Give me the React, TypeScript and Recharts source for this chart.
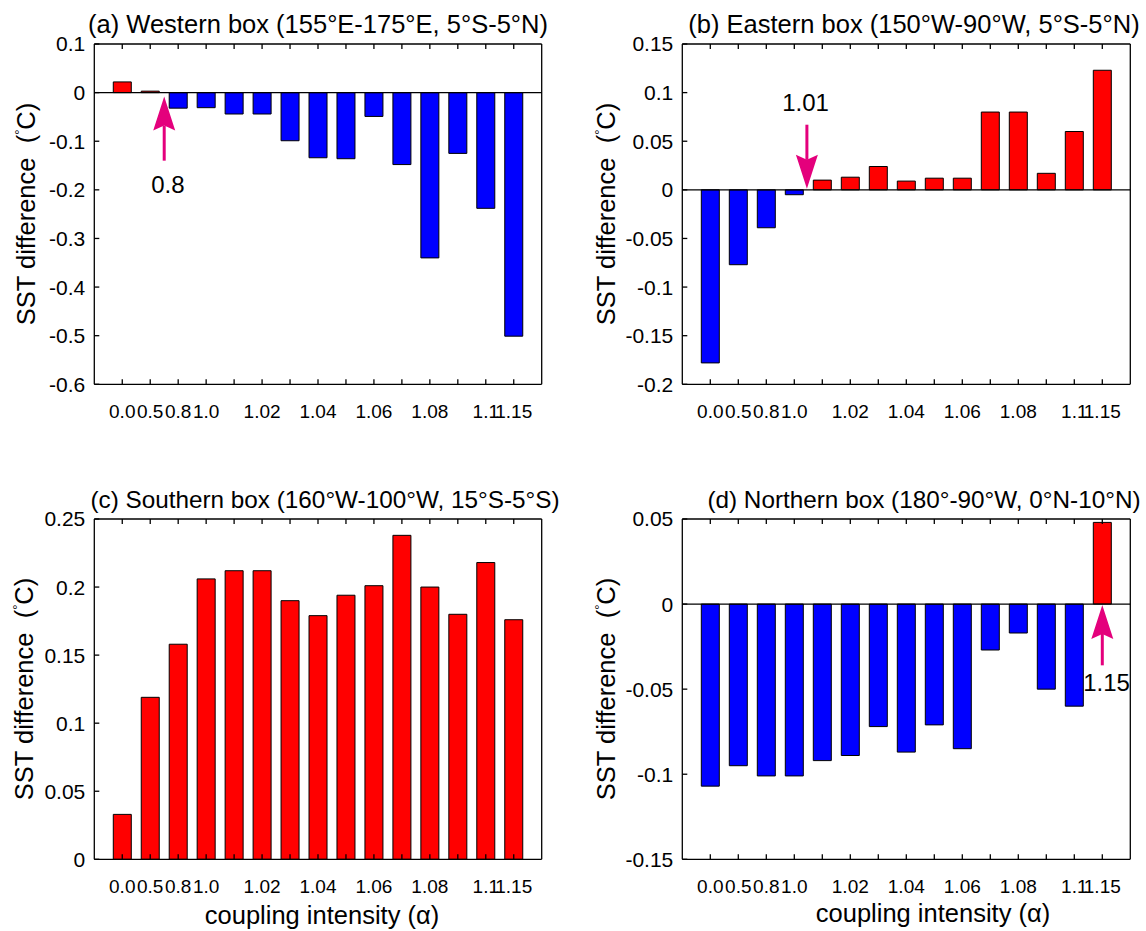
import React from 'react';
import { BarChart, Bar, XAxis, YAxis, Cell, ReferenceLine, ReferenceDot } from 'recharts';

const alphas = ['0.0', '0.5', '0.8', '1.0', '1.01', '1.02', '1.03', '1.04', '1.05', '1.06', '1.07', '1.08', '1.09', '1.1', '1.15'];
const xTickLabels = ['0.0', '0.5', '0.8', '1.0', '', '1.02', '', '1.04', '', '1.06', '', '1.08', '', '1.1', '1.15'];

const western = [0.022, 0.003, -0.032, -0.031, -0.044, -0.044, -0.099, -0.134, -0.136, -0.049, -0.148, -0.340, -0.125, -0.238, -0.501];
const eastern = [-0.178, -0.077, -0.039, -0.005, 0.010, 0.013, 0.024, 0.009, 0.012, 0.012, 0.080, 0.080, 0.017, 0.060, 0.123];
const southern = [0.033, 0.119, 0.158, 0.206, 0.212, 0.212, 0.190, 0.179, 0.194, 0.201, 0.238, 0.200, 0.180, 0.218, 0.176];
const northern = [-0.107, -0.095, -0.101, -0.101, -0.092, -0.089, -0.072, -0.087, -0.071, -0.085, -0.027, -0.017, -0.050, -0.060, 0.048];

const westernTicks = [-0.6, -0.5, -0.4, -0.3, -0.2, -0.1, 0, 0.1];
const easternTicks = [-0.2, -0.15, -0.1, -0.05, 0, 0.05, 0.1, 0.15];
const southernTicks = [0, 0.05, 0.1, 0.15, 0.2, 0.25];
const northernTicks = [-0.15, -0.1, -0.05, 0, 0.05];

const titles = [
  '(a) Western box (155°E-175°E, 5°S-5°N)',
  '(b) Eastern box (150°W-90°W, 5°S-5°N)',
  '(c) Southern box (160°W-100°W, 15°S-5°S)',
  '(d) Northern box (180°-90°W, 0°N-10°N)',
];
const xLabel = 'coupling intensity (α)';

// annotation arrows (x in bar-position units, y in °C)
const westernArrow = { x: 2.5, from: -0.14, to: -0.008, text: '0.8', tx: 2.63, ty: -0.19 };
const easternArrow = { x: 4.45, from: 0.067, to: 0.001, text: '1.01', tx: 4.4, ty: 0.09 };
const northernArrow = { x: 15, from: -0.036, to: -0.0005, text: '1.15', tx: 15.15, ty: -0.046 };

const FONT = '"Liberation Sans", Arial, Helvetica, sans-serif';
const RED = '#FF0000';
const BLUE = '#0000FF';
const PINK = '#E4007C';
const positions = alphas.map((_, i) => i + 1);

const ArrowShape = (p: any) => {
  const { x1, y1, x2, y2 } = p;
  if ([x1, y1, x2, y2].some((v) => typeof v !== 'number' || isNaN(v))) return <g />;
  const dx = x2 - x1;
  const dy = y2 - y1;
  const len = Math.hypot(dx, dy) || 1;
  const ux = dx / len;
  const uy = dy / len;
  const headLen = 34;
  const halfW = 11;
  const notch = 5;
  const bx = x2 - ux * headLen;
  const by = y2 - uy * headLen;
  const px = -uy;
  const py = ux;
  const nx = x2 - ux * (headLen - notch);
  const ny = y2 - uy * (headLen - notch);
  const pts = [
    [x2, y2],
    [bx + px * halfW, by + py * halfW],
    [nx, ny],
    [bx - px * halfW, by - py * halfW],
  ]
    .map((q) => q.join(','))
    .join(' ');
  return (
    <g>
      <line x1={x1} y1={y1} x2={nx} y2={ny} stroke={PINK} strokeWidth={3} />
      <polygon points={pts} fill={PINK} />
    </g>
  );
};

type PanelProps = {
  left: number;
  top: number;
  width: number;
  height: number;
  frame: { left: number; right: number; top: number; bottom: number };
  values: number[];
  yTicks: number[];
  zeroLine: boolean;
  arrow?: { x: number; from: number; to: number; text: string; tx: number; ty: number };
};

function Panel({ left, top, width, height, frame, values, yTicks, zeroLine, arrow }: PanelProps) {
  const data = alphas.map((a, i) => ({ alpha: a, pos: i + 1, value: values[i] }));
  const yDomain = [Math.min(...yTicks), Math.max(...yTicks)];
  const axisStyle = { stroke: '#000', strokeWidth: 1.3 };
  const xAxisH = 40;
  const yAxisW = 60;
  return (
    <div style={{ position: 'absolute', left, top }}>
      <BarChart
        width={width}
        height={height}
        data={data}
        margin={{
          top: frame.top - 1,
          right: width - frame.right - 1,
          left: frame.left - yAxisW,
          bottom: height - frame.bottom - xAxisH,
        }}
      >
        <XAxis
          xAxisId="b"
          type="number"
          dataKey="pos"
          domain={[0, 16]}
          ticks={positions}
          interval={0}
          orientation="bottom"
          height={xAxisH}
          tickSize={-5}
          tickMargin={25.5}
          axisLine={axisStyle}
          tickLine={axisStyle}
          tickFormatter={(v: number) => xTickLabels[v - 1] ?? ''}
          tick={{ fill: '#000', fontSize: 19, fontFamily: FONT }}
        />
        <XAxis
          xAxisId="t"
          type="number"
          dataKey="pos"
          domain={[0, 16]}
          ticks={positions}
          interval={0}
          orientation="top"
          height={1}
          tickSize={-5}
          axisLine={axisStyle}
          tickLine={axisStyle}
          tickFormatter={() => ''}
        />
        <YAxis
          yAxisId="l"
          type="number"
          domain={yDomain}
          ticks={yTicks}
          interval={0}
          width={yAxisW}
          tickSize={-5}
          tickMargin={14}
          axisLine={axisStyle}
          tickLine={axisStyle}
          tick={{ fill: '#000', fontSize: 21, fontFamily: FONT }}
        />
        <YAxis
          yAxisId="r"
          orientation="right"
          type="number"
          domain={yDomain}
          ticks={yTicks}
          interval={0}
          width={1}
          tickSize={-5}
          axisLine={axisStyle}
          tickLine={axisStyle}
          tickFormatter={() => ''}
        />
        {zeroLine && <ReferenceLine xAxisId="b" yAxisId="l" y={0} stroke="#000" strokeWidth={1.3} />}
        <Bar xAxisId="b" yAxisId="l" dataKey="value" barSize={18} isAnimationActive={false} stroke="#000" strokeWidth={1}>
          {data.map((d, i) => (
            <Cell key={i} fill={d.value >= 0 ? RED : BLUE} />
          ))}
        </Bar>
        {arrow && (
          <ReferenceLine
            xAxisId="b"
            yAxisId="l"
            segment={[
              { x: arrow.x, y: arrow.from },
              { x: arrow.x, y: arrow.to },
            ]}
            ifOverflow="visible"
            shape={ArrowShape}
          />
        )}
        {arrow && (
          <ReferenceDot
            xAxisId="b"
            yAxisId="l"
            x={arrow.tx}
            y={arrow.ty}
            r={0}
            ifOverflow="visible"
            shape={(p: any) => (
              <text
                x={p.cx}
                y={p.cy}
                textAnchor="middle"
                dominantBaseline="central"
                fontSize={24}
                fontFamily={FONT}
                fill="#000"
              >
                {arrow.text}
              </text>
            )}
          />
        )}
      </BarChart>
    </div>
  );
}

function YLabel({ x, y }: { x: number; y: number }) {
  return (
    <text
      transform={`translate(${x},${y}) rotate(-90)`}
      textAnchor="middle"
      fontSize={25.5}
      fontFamily={FONT}
      fill="#000"
      style={{ whiteSpace: 'pre' }}
    >
      {'SST difference  ('}
      <tspan fontSize={13} dy={-11}>
        °
      </tspan>
      <tspan dy={11}>C)</tspan>
    </text>
  );
}

export default function App() {
  return (
    <div
      style={{
        position: 'absolute',
        left: 0,
        top: 0,
        width: 1146,
        height: 931,
        background: '#fff',
        overflow: 'hidden',
      }}
    >
      <Panel
        left={0}
        top={0}
        width={573}
        height={465}
        frame={{ left: 94.3, right: 541.7, top: 44, bottom: 384.3 }}
        values={western}
        yTicks={westernTicks}
        zeroLine
        arrow={westernArrow}
      />
      <Panel
        left={573}
        top={0}
        width={573}
        height={465}
        frame={{ left: 109.3, right: 557.3, top: 44, bottom: 384.3 }}
        values={eastern}
        yTicks={easternTicks}
        zeroLine
        arrow={easternArrow}
      />
      <Panel
        left={0}
        top={465}
        width={573}
        height={466}
        frame={{ left: 94.3, right: 541.7, top: 54, bottom: 394.3 }}
        values={southern}
        yTicks={southernTicks}
        zeroLine={false}
      />
      <Panel
        left={573}
        top={465}
        width={573}
        height={466}
        frame={{ left: 109.3, right: 557.3, top: 54, bottom: 394.3 }}
        values={northern}
        yTicks={northernTicks}
        zeroLine
        arrow={northernArrow}
      />
      <svg
        width={1146}
        height={931}
        style={{ position: 'absolute', left: 0, top: 0, pointerEvents: 'none' }}
      >
        <g fontFamily={FONT} fill="#000" textAnchor="middle">
          <text x={318} y={33} fontSize={25.5}>{titles[0]}</text>
          <text x={914} y={33} fontSize={25.5}>{titles[1]}</text>
          <text x={325} y={508} fontSize={24.3}>{titles[2]}</text>
          <text x={924} y={508} fontSize={24.3}>{titles[3]}</text>
          <text x={322} y={924} fontSize={25.5}>{xLabel}</text>
          <text x={933} y={922} fontSize={25.5}>{xLabel}</text>
        </g>
        <YLabel x={35} y={214} />
        <YLabel x={615} y={214} />
        <YLabel x={33} y={689} />
        <YLabel x={615} y={689} />
      </svg>
    </div>
  );
}
